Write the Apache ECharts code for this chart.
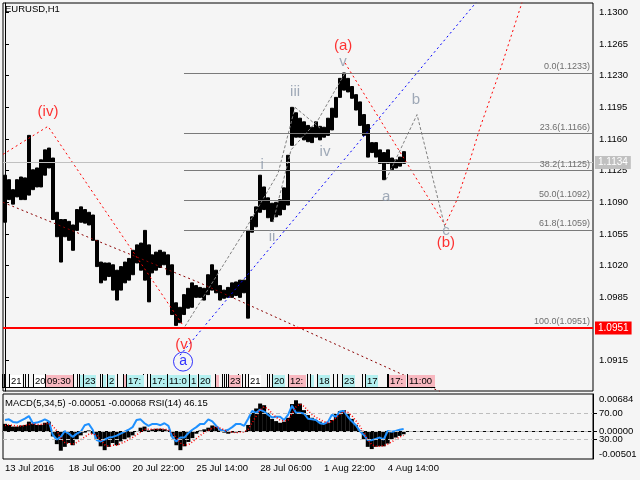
<!DOCTYPE html>
<html>
<head>
<meta charset="utf-8">
<script src="https://cdn.jsdelivr.net/npm/echarts@6/dist/echarts.min.js"></script>
<style>
html, body { margin: 0; padding: 0; background: #f5f5f5; }
#main { width: 640px; height: 480px; }
</style>
</head>
<body>
<div id="main"></div>
<script>
// price axis ticks and time labels (one label every 16 four-hour slots)
var priceTicks = [1.1300, 1.1265, 1.1230, 1.1195, 1.1160, 1.1125, 1.1090, 1.1055, 1.1020, 1.0985, 1.0915];
var timeLabels = ['13 Jul 2016', '18 Jul 06:00', '20 Jul 22:00', '25 Jul 14:00', '28 Jul 06:00', '1 Aug 22:00', '4 Aug 14:00'];
var slotCount = 148;

// price range per 4h slot
var highs = [
  1.1120, 1.1115, 1.1104, 1.1115, 1.1118, 1.1117, 1.1164, 1.1126, 1.1128, 1.1137,
  1.1148, 1.1150, 1.1139, 1.1079, 1.1071, 1.1071, 1.1069, 1.1065, 1.1082, 1.1085,
  1.1082, 1.1079, 1.1076, 1.1048, 1.1024, 1.1023, 1.1023, 1.1021, 1.1015, 1.1019,
  1.1024, 1.1028, 1.1037, 1.1043, 1.1045, 1.1059, 1.1043, 1.1032, 1.1035, 1.1037,
  1.1035, 1.1032, 1.1021, 1.0979, 1.0974, 1.0988, 1.0995, 1.1001, 1.0998, 1.0996,
  1.0995, 1.1010, 1.1021, 1.1015, 1.0998, 1.0993, 1.0996, 1.1001, 1.1002, 1.1004,
  1.1004, 1.1059, 1.1074, 1.1085, 1.1120, 1.1107, 1.1095, 1.1089, 1.1090, 1.1093,
  1.1106, 1.1142, 1.1195, 1.1189, 1.1183, 1.1179, 1.1175, 1.1173, 1.1179, 1.1174,
  1.1173, 1.1183, 1.1194, 1.1206, 1.1227, 1.1233, 1.1227, 1.1218, 1.1209, 1.1201,
  1.1187, 1.1176, 1.1156, 1.1156, 1.1148, 1.1145, 1.1148, 1.1139, 1.1137, 1.1140,
  1.1146
];
var lows = [
  1.1068, 1.1093, 1.1088, 1.1096, 1.1093, 1.1093, 1.1098, 1.1104, 1.1107, 1.1107,
  1.1120, 1.1128, 1.1071, 1.1052, 1.1024, 1.1052, 1.1048, 1.1037, 1.1059, 1.1068,
  1.1067, 1.1065, 1.1048, 1.1019, 1.1001, 1.1004, 1.1008, 1.0993, 1.0982, 1.0993,
  1.1001, 1.1004, 1.1010, 1.1023, 1.1015, 1.1004, 1.0980, 1.1012, 1.1015, 1.1018,
  1.1021, 1.1010, 1.0966, 1.0954, 1.0957, 1.0966, 1.0973, 1.0974, 1.0985, 1.0985,
  1.0982, 1.0988, 1.0993, 1.0990, 1.0982, 1.0984, 1.0985, 1.0985, 1.0987, 1.0985,
  1.0990, 1.0962, 1.1057, 1.1063, 1.1079, 1.1082, 1.1073, 1.1069, 1.1074, 1.1076,
  1.1082, 1.1087, 1.1153, 1.1162, 1.1162, 1.1159, 1.1157, 1.1156, 1.1162, 1.1159,
  1.1162, 1.1164, 1.1170, 1.1184, 1.1206, 1.1214, 1.1212, 1.1205, 1.1192, 1.1175,
  1.1164, 1.1140, 1.1145, 1.1140, 1.1133, 1.1115, 1.1133, 1.1126, 1.1128, 1.1130,
  1.1133
];

// MACD(5,34,5) histogram and signal, RSI(14)
var macd = [
  0.0014, 0.0012, 0.0009, 0.0009, 0.0011, 0.0012, 0.0018, 0.0014, 0.0012, 0.0012, 0.0016, 0.0018,
  -0.0009, -0.0023, -0.0035, -0.0028, -0.0021, -0.0025, -0.0014, -0.0007, -0.0002,
  0.0002, -0.0004, -0.0014, -0.0027, -0.0034, -0.0028, -0.0021, -0.0025, -0.0018, -0.0014, -0.0011, -0.0007, 0.0000,
  0.0007, 0.0009, 0.0002, 0.0004, 0.0005, 0.0005, 0.0004, 0.0002,
  -0.0009, -0.0025, -0.0034, -0.0027, -0.0019, -0.0012, -0.0004, 0.0002, 0.0004,
  0.0007, 0.0011, 0.0009, 0.0002, -0.0002, -0.0004, -0.0002, -0.0002, 0.0001, -0.0001,
  0.0012, 0.0034, 0.0042, 0.0051, 0.0048, 0.0034, 0.0023, 0.0019, 0.0016, 0.0018, 0.0025,
  0.0050, 0.0057, 0.0051, 0.0039, 0.0030, 0.0025, 0.0021, 0.0018, 0.0014, 0.0016, 0.0021,
  0.0032, 0.0037, 0.0039, 0.0032, 0.0023, 0.0012, 0.0002,
  -0.0014, -0.0028, -0.0032, -0.0028, -0.0027, -0.0027, -0.0022, -0.0014, -0.0011, -0.0008, -0.0005
];
var signal = [
  0.0011, 0.0012, 0.0011, 0.0010, 0.0010, 0.0011, 0.0013, 0.0014, 0.0013, 0.0013, 0.0014, 0.0015,
  0.0010, 0.0001, -0.0012, -0.0020, -0.0022, -0.0023, -0.0020, -0.0015, -0.0010,
  -0.0005, -0.0004, -0.0007, -0.0015, -0.0024, -0.0027, -0.0025, -0.0025, -0.0022, -0.0019, -0.0015, -0.0011, -0.0006,
  -0.0001, 0.0004, 0.0004, 0.0004, 0.0004, 0.0005, 0.0004, 0.0003,
  -0.0002, -0.0011, -0.0021, -0.0025, -0.0024, -0.0019, -0.0013, -0.0007, -0.0002,
  0.0002, 0.0006, 0.0008, 0.0006, 0.0003, 0.0000, -0.0001, -0.0002, -0.0001, -0.0001,
  0.0004, 0.0016, 0.0028, 0.0039, 0.0045, 0.0041, 0.0033, 0.0026, 0.0021, 0.0019, 0.0021,
  0.0033, 0.0045, 0.0050, 0.0046, 0.0038, 0.0031, 0.0026, 0.0022, 0.0018, 0.0016, 0.0018,
  0.0025, 0.0031, 0.0036, 0.0035, 0.0029, 0.0020, 0.0010,
  -0.0002, -0.0015, -0.0024, -0.0027, -0.0027, -0.0026, -0.0023, -0.0019, -0.0014, -0.0010, -0.0007
];
var rsi = [
  60, 61, 57, 56, 59, 62, 66, 55, 56, 58, 61, 58,
  37, 30, 34, 43, 39, 34, 39, 42, 52,
  54, 45, 29, 27, 30, 33, 34, 36, 39, 42, 45, 49, 60,
  61, 55, 51, 54, 54, 52, 55, 51,
  33, 27, 33, 33, 40, 45, 49, 54, 54,
  61, 58, 51, 45, 43, 45, 49, 54, 54, 51,
  62, 74, 71, 76, 73, 68, 64, 65, 65, 60, 68,
  82, 71, 71, 70, 62, 61, 60, 55, 54, 57, 68,
  65, 73, 74, 65, 58, 52, 43,
  37, 29, 29, 31, 33, 30, 43, 42, 43, 45, 46
];

// fibonacci retracement of wave (a)
var fibLevels = ['0.0', '23.6', '38.2', '50.0', '61.8', '100.0'];
var fibPrices = [1.1233, 1.1166, 1.1125, 1.1092, 1.1059, 1.0951];
var fibStartSlot = 44.9;
var bidPrice = 1.1134;
var supportPrice = 1.0951;

// wave lines as [slot, price]
var waveMajor = [[-0.5, 1.1143], [10.79, 1.1174], [44.66, 1.0954]];
var waveProjection = [[85.3, 1.1244], [110.39, 1.1065], [113.4, 1.1093], [115.9, 1.1126], [119.2, 1.1173], [124.2, 1.1236], [129.7, 1.1311]];
var trendLine = [[-0.5, 1.1090], [48.9, 1.1001], [109.1, 1.0881]];
var blueLine = [[43.9, 1.0921], [118.2, 1.1311]];
var subWaveA = [[45.16, 1.0953], [59.21, 1.1052], [68.49, 1.1122], [72.76, 1.1195]];
var subWaveB = [[67.24, 1.1068], [71.75, 1.1148], [78.53, 1.1181], [85.3, 1.1233]];
var subWaveC = [[72.76, 1.1195], [79.03, 1.1172]];
var abcWave = [[95.59, 1.1115], [103.36, 1.1187], [110.39, 1.1062]];

// wave labels [text, slot, price]
var majorLabels = [['(iv)', 10.79, 1.1190], ['(v)', 44.91, 1.0932], ['(a)', 84.8, 1.1263], ['(b)', 110.6, 1.1045]];
var minorLabels = [['i', 64.48, 1.1131], ['ii', 66.99, 1.1052], ['iii', 72.76, 1.1212], ['iv', 80.28, 1.1146],
  ['v', 84.8, 1.1245], ['a', 95.59, 1.1096], ['b', 103.1, 1.1203], ['c', 110.6, 1.1059]];
var circleLabel = ['a', 44.66, 1.0914];

// calendar event markers along the bottom of the price panel
var eventSlots = [1.0, 7.0, 10.0, 18.6, 19.6, 24.3, 25.6, 29.6, 30.4, 36.4, 40.6, 46.2, 48.4, 52.7, 56.0, 61.0, 67.0, 71.0, 76.5, 78.3, 84.5, 90.3, 96.1, 100.9];
var eventTexts = ['21', '20', '09:30', '', '23', '', '2', '', '17:', '17:', '11:0', '1', '20', '', '23', '21', '20', '12:', '', '18', '23', '17', '17:', '11:00'];
var eventKinds = ['w', 'w', 'p', 'c', 'c', 'c', 'c', 'p', 'c', 'c', 'c', 'c', 'c', 'p', 'p', 'w', 'c', 'p', 'c', 'c', 'c', 'c', 'p', 'p'];
var eventMarks = [-0.75, -0.25, 4.5, 5.0, 5.8, 17.1, 18.1, 23.8, 28.1, 34.6, 35.6, 54.4, 54.9, 55.4, 58.5, 59.5, 60.2, 65.7, 66.2, 75.8, 82.3, 83.3, 89.6, 95.8];

var FONT = 'Liberation Sans, Arial, sans-serif';
var categories = [];
for (var i = 0; i < slotCount; i++) categories.push(String(i));

var chartDom = document.getElementById('main');
var myChart = echarts.init(chartDom);
var option;

function eventWidth(i) {
  var t = eventTexts[i];
  return t ? t.length * 5 + 3 : 4;
}
var eventFill = { c: '#b4f0f0', p: '#f8b8c0', w: '#ffffff' };

function renderEvent(params, api) {
  var i = params.dataIndex;
  var cs = params.coordSys;
  var x = Math.round(api.coord([api.value(0), 1.1])[0]);
  var top = cs.y + cs.height - 17;
  var w = eventWidth(i);
  var children = [
    { type: 'rect', shape: { x: x, y: top + 1, width: w, height: 12 }, style: { fill: eventFill[eventKinds[i]] } },
    { type: 'line', shape: { x1: x + 0.5, y1: top, x2: x + 0.5, y2: top + 14 }, style: { stroke: '#000', lineWidth: 1 } },
    { type: 'text', x: x + 2, y: top + 7.5, style: { text: eventTexts[i], fill: '#000', font: '9.5px ' + FONT, verticalAlign: 'middle' } }
  ];
  if (i === 0) {
    var last = eventSlots.length - 1;
    var endX = api.coord([eventSlots[last], 1.1])[0] + eventWidth(last);
    children.push({ type: 'line', shape: { x1: cs.x, y1: top + 13.5, x2: endX, y2: top + 13.5 }, style: { stroke: '#000', lineWidth: 1 } });
  }
  return { type: 'group', children: children };
}

function renderMark(params, api) {
  var cs = params.coordSys;
  var x = Math.round(api.coord([api.value(0), 1.1])[0]) + 0.5;
  var top = cs.y + cs.height - 17;
  return { type: 'line', shape: { x1: x, y1: top, x2: x, y2: top + 14 }, style: { stroke: '#000', lineWidth: 1 } };
}

function dotted(data, color, dash) {
  return {
    type: 'line', xAxisIndex: 1, yAxisIndex: 0, data: data, symbol: 'none',
    lineStyle: { color: color, width: 1, type: dash }, silent: true, z: 3
  };
}

var fibLines = fibPrices.map(function (p, k) {
  return [
    { coord: [fibStartSlot, p] },
    { coord: [slotCount - 0.5, p], label: { formatter: fibLevels[k] + '(' + p.toFixed(4) + ')' } }
  ];
});

function priceLine(p, color, width) {
  return [
    { coord: [-0.5, p], lineStyle: { color: color, type: 'solid', width: width } },
    {
      coord: [slotCount - 0.5, p],
      label: { show: true, position: 'end', distance: 2, formatter: p.toFixed(4), backgroundColor: color, color: '#fff', padding: [2, 3, 1, 3], fontSize: 10, fontFamily: FONT }
    }
  ];
}

option = {
  animation: false,
  backgroundColor: '#f5f5f5',
  textStyle: { fontFamily: FONT },
  title: [
    { text: 'EURUSD,H1', left: 5, top: 4, padding: 0, textStyle: { fontSize: 9.5, fontWeight: 'normal', color: '#000', fontFamily: FONT } },
    { text: 'MACD(5,34,5) -0.00051 -0.00068 RSI(14) 46.15', left: 5, top: 398, padding: 0, textStyle: { fontSize: 9.5, fontWeight: 'normal', color: '#000', fontFamily: FONT } }
  ],
  grid: [
    { left: 3, top: 3, right: 47, bottom: 89, show: true, borderColor: '#000', borderWidth: 1, outerBoundsMode: 'none' },
    { left: 3, top: 394, right: 47, bottom: 21, show: true, borderColor: '#000', borderWidth: 1, outerBoundsMode: 'none' }
  ],
  xAxis: [
    { type: 'category', gridIndex: 0, data: categories, show: false },
    { type: 'value', gridIndex: 0, min: -0.5, max: slotCount - 0.5, show: false },
    {
      type: 'category', gridIndex: 1, data: categories,
      axisLine: { lineStyle: { color: '#000' } },
      axisTick: { interval: 15, alignWithLabel: true, length: 4, lineStyle: { color: '#000' } },
      axisLabel: {
        interval: 15, align: 'left', margin: 4, color: '#000', fontSize: 9.5, fontFamily: FONT,
        formatter: function (v, idx) { return timeLabels[idx / 16] || ''; }
      },
      splitLine: { show: false }
    }
  ],
  yAxis: [
    {
      type: 'value', gridIndex: 0, position: 'right', min: 1.08815, max: 1.13103,
      axisLine: { show: true, lineStyle: { color: '#000' } },
      axisTick: { show: true, length: 4, customValues: priceTicks, lineStyle: { color: '#000' } },
      axisLabel: {
        customValues: priceTicks, margin: 6, color: '#000', fontSize: 9.5, fontFamily: FONT,
        formatter: function (v) { return v.toFixed(4); }
      },
      splitLine: { show: false }
    },
    {
      type: 'value', gridIndex: 1, position: 'right', min: -0.00501, max: 0.00684,
      axisLine: { show: true, lineStyle: { color: '#000' } },
      axisTick: { show: true, length: 4, customValues: [0], lineStyle: { color: '#000' } },
      axisLabel: {
        customValues: [0.00684, 0, -0.00501], showMinLabel: true, showMaxLabel: true,
        margin: 6, color: '#000', fontSize: 9.5, fontFamily: FONT,
        formatter: function (v) {
          if (v > 0.001) return '{t|' + v.toFixed(5) + '}';
          if (v < -0.001) return '{b|' + v.toFixed(5) + '}';
          return v.toFixed(5);
        },
        rich: {
          t: { padding: [10, 0, 0, 0], fontSize: 9.5, color: '#000', fontFamily: FONT },
          b: { padding: [0, 0, 10, 0], fontSize: 9.5, color: '#000', fontFamily: FONT }
        }
      },
      splitLine: { show: false }
    },
    {
      type: 'value', gridIndex: 1, position: 'right', min: 0, max: 100,
      axisLine: { show: false },
      axisTick: { show: true, length: 4, customValues: [70, 30], lineStyle: { color: '#000' } },
      axisLabel: {
        customValues: [70, 30], margin: 6, color: '#000', fontSize: 9.5, fontFamily: FONT,
        formatter: function (v) { return v.toFixed(2); }
      },
      splitLine: { show: false }
    }
  ],
  series: [
    {
      type: 'candlestick', xAxisIndex: 0, yAxisIndex: 0, barWidth: 3.5,
      data: lows.map(function (l, k) { return [l, highs[k], l, highs[k]]; }),
      itemStyle: { color: '#000', color0: '#000', borderColor: '#000', borderColor0: '#000', borderWidth: 1 },
      z: 2
    },
    {
      type: 'line', xAxisIndex: 1, yAxisIndex: 0, data: [], symbol: 'none', z: 1,
      markLine: {
        silent: true, symbol: ['none', 'none'],
        lineStyle: { color: '#7a7a7a', type: 'solid', width: 1 },
        label: { show: true, position: 'insideEndTop', distance: [3, 2], color: '#6e6e6e', fontSize: 9, fontFamily: FONT },
        data: fibLines
      }
    },
    {
      type: 'line', xAxisIndex: 1, yAxisIndex: 0, data: [], symbol: 'none', z: 2,
      markLine: {
        silent: true, symbol: ['none', 'none'],
        data: [priceLine(bidPrice, '#c0c0c0', 1), priceLine(supportPrice, '#ff0000', 2)]
      }
    },
    dotted(waveMajor, '#ff0000', [2, 3]),
    dotted(waveProjection, '#ff0000', [2, 3]),
    dotted(trendLine, '#8b0000', [2, 3]),
    dotted(blueLine, '#0000ff', [2, 3]),
    dotted(subWaveA, '#808080', [3, 2]),
    dotted(subWaveB, '#808080', [3, 2]),
    dotted(subWaveC, '#808080', [3, 2]),
    dotted(abcWave, '#808080', [3, 2]),
    {
      type: 'scatter', xAxisIndex: 1, yAxisIndex: 0, symbolSize: 1, silent: true, z: 5,
      itemStyle: { color: 'transparent' },
      data: majorLabels.map(function (d) { return { name: d[0], value: [d[1], d[2]] }; }),
      label: { show: true, position: 'inside', formatter: '{b}', color: '#ff0000', fontSize: 15, fontFamily: FONT }
    },
    {
      type: 'scatter', xAxisIndex: 1, yAxisIndex: 0, symbolSize: 1, silent: true, z: 5,
      itemStyle: { color: 'transparent' },
      data: minorLabels.map(function (d) { return { name: d[0], value: [d[1], d[2]] }; }),
      label: { show: true, position: 'inside', formatter: '{b}', color: '#8a96a8', fontSize: 15, fontFamily: FONT }
    },
    {
      type: 'scatter', xAxisIndex: 1, yAxisIndex: 0, symbol: 'circle', symbolSize: 19, silent: true, z: 5,
      itemStyle: { color: 'transparent', borderColor: '#0000ff', borderWidth: 1 },
      data: [{ name: circleLabel[0], value: [circleLabel[1], circleLabel[2]] }],
      label: { show: true, position: 'inside', formatter: '{b}', color: '#0000ff', fontSize: 14, fontFamily: FONT }
    },
    {
      type: 'custom', xAxisIndex: 1, yAxisIndex: 0, silent: true, z: 6,
      data: eventMarks.map(function (v) { return [v]; }),
      renderItem: renderMark
    },
    {
      type: 'custom', xAxisIndex: 1, yAxisIndex: 0, silent: true, z: 6,
      data: eventSlots.map(function (v) { return [v]; }),
      renderItem: renderEvent
    },
    {
      type: 'bar', xAxisIndex: 2, yAxisIndex: 1, data: macd, barWidth: '100%',
      itemStyle: { color: '#000' }, silent: true,
      markLine: {
        silent: true, symbol: ['none', 'none'],
        lineStyle: { color: '#bdbdbd', type: [4, 3], width: 1 }, label: { show: false },
        data: [{ yAxis: 0 }]
      }
    },
    {
      type: 'line', xAxisIndex: 2, yAxisIndex: 1, data: signal, symbol: 'none', silent: true, z: 4,
      lineStyle: { color: '#ff0000', width: 1.5, type: [1, 2] }
    },
    {
      type: 'line', xAxisIndex: 2, yAxisIndex: 2, data: rsi, symbol: 'none', silent: true, z: 3,
      lineStyle: { color: '#1e90ff', width: 2 },
      markLine: {
        silent: true, symbol: ['none', 'none'],
        lineStyle: { color: '#bdbdbd', type: [4, 3], width: 1 }, label: { show: false },
        data: [{ yAxis: 70 }, { yAxis: 30 }]
      }
    }
  ]
};

option && myChart.setOption(option);
window.onresize = function () {
    myChart.resize();
};
</script>
</body>
</html>
